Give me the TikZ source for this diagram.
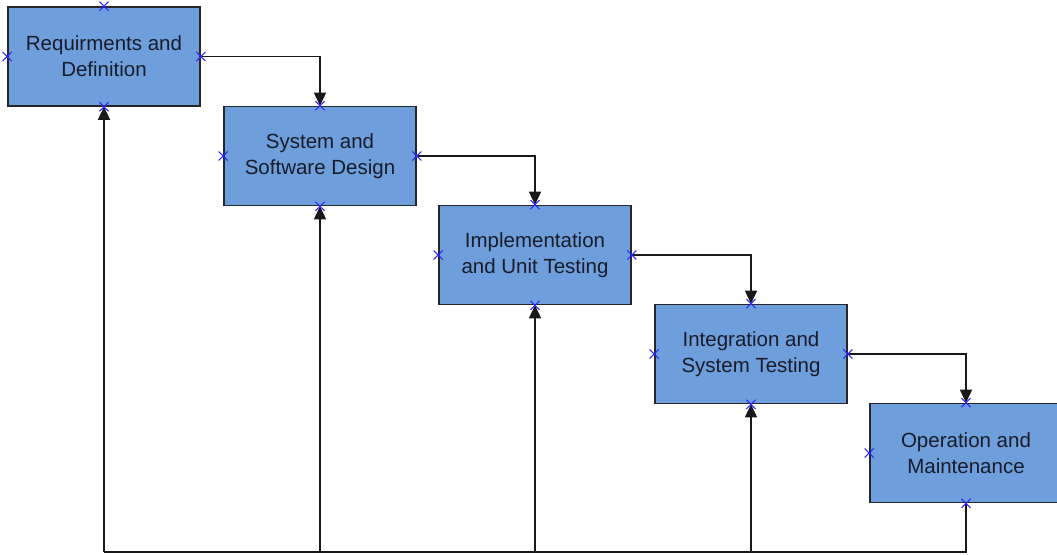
\documentclass[tikz,border=0pt]{standalone}
\usepackage{fontspec}
\setmainfont{Liberation Sans}
\usetikzlibrary{arrows.meta,shapes.misc}
\definecolor{boxfill}{RGB}{111,158,220}
\definecolor{txt}{RGB}{25,28,40}
\definecolor{mark}{RGB}{40,40,255}
\tikzset{
  phase/.style={draw=black!85, line width=1.6pt, fill=boxfill, minimum width=192pt, minimum height=99pt,
    inner sep=0pt, align=center, text=txt, font=\fontsize{20.5}{26}\selectfont},
  conn/.style={draw=black!90, line width=1.5pt},
  arr/.style={conn, -{Triangle[length=13pt,width=12pt]}},
  xmark/.style={cross out, draw=mark, line width=1.1pt, minimum size=8pt, inner sep=0pt}
}
\begin{document}
\begin{tikzpicture}[x=1pt,y=-1pt]
\useasboundingbox (0,0) rectangle (1057,554);
\node[phase] (r1) at (104,56.5) {Requirments and\\Definition};
\node[phase] (r2) at (320,156) {System and\\Software Design};
\node[phase] (r3) at (535,255) {Implementation\\and Unit Testing};
\node[phase] (r4) at (751,354) {Integration and\\System Testing};
\node[phase] (r5) at (966,453) {Operation and\\Maintenance};
\coordinate (base) at (0,552);
% forward arrows
\draw[arr] (r1.east) -| (r2.north);
\draw[arr] (r2.east) -| (r3.north);
\draw[arr] (r3.east) -| (r4.north);
\draw[arr] (r4.east) -| (r5.north);
% feedback
\draw[conn] (r5.south) |- (r1.south |- base);
\draw[arr] (r1.south |- base) -- (r1.south);
\draw[arr] (r2.south |- base) -- (r2.south);
\draw[arr] (r3.south |- base) -- (r3.south);
\draw[arr] (r4.south |- base) -- (r4.south);
% connection markers
\foreach \n in {r1,r2,r3,r4,r5}{
  \foreach \a in {north,south,east,west}{
    \node[xmark] at (\n.\a) {};
  }
}
\end{tikzpicture}
\end{document}
